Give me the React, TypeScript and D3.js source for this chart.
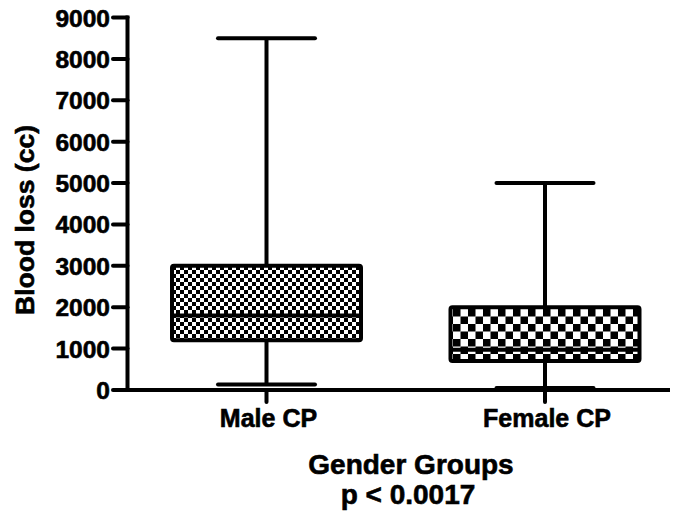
import React from "react";
import * as d3 from "d3";

const categories = ["Male CP", "Female CP"];
const mins = [130, 50];
const q1s = [1200, 700];
const medians = [1800, 970];
const q3s = [3000, 2000];
const maxs = [8500, 5000];
const patterns = ["checkFine", "checkCoarse"];
const yTicks = [0, 1000, 2000, 3000, 4000, 5000, 6000, 7000, 8000, 9000];
const yTitle = "Blood loss (cc)";
const xTitle = "Gender Groups";
const pText = "p < 0.0017";

export default function App() {
  const W = 682, H = 514;
  const axisX = 127.5, axisY = 390, axisRight = 670;
  const y = d3.scaleLinear().domain([0, 9000]).range([390, 17.5]);
  const x = d3.scalePoint<string>().domain(categories).range([266.5, 545]).padding(0);
  const boxW = 189, capW = 97;
  const font = "'Liberation Sans', Arial, Helvetica, sans-serif";
  const textStroke = { stroke: "#000", strokeWidth: 0.6 };

  return (
    <svg width={W} height={H} style={{ position: "absolute", left: 0, top: 0, background: "#fff" }}>
      <defs>
        <pattern id="checkFine" patternUnits="userSpaceOnUse" width={8} height={8} x={172} y={266}>
          <rect width={8} height={8} fill="#fff" />
          <rect width={4} height={4} fill="#000" />
          <rect x={4} y={4} width={4} height={4} fill="#000" />
        </pattern>
        <pattern id="checkCoarse" patternUnits="userSpaceOnUse" width={15} height={15} x={453} y={309}>
          <rect width={15} height={15} fill="#fff" />
          <rect width={7.5} height={7.5} fill="#000" />
          <rect x={7.5} y={7.5} width={7.5} height={7.5} fill="#000" />
        </pattern>
      </defs>

      {categories.map((c, i) => {
        const cx = x(c)!;
        return (
          <g key={c}>
            <line x1={cx} x2={cx} y1={y(mins[i])} y2={y(maxs[i])} stroke="#000" strokeWidth={4} />
            <line x1={cx - capW / 2} x2={cx + capW / 2} y1={y(maxs[i])} y2={y(maxs[i])} stroke="#000" strokeWidth={4} strokeLinecap="round" />
            <line x1={cx - capW / 2} x2={cx + capW / 2} y1={y(mins[i])} y2={y(mins[i])} stroke="#000" strokeWidth={4} strokeLinecap="round" />
            <rect x={cx - boxW / 2} y={y(q3s[i])} width={boxW} height={y(q1s[i]) - y(q3s[i])} fill={`url(#${patterns[i]})`} stroke="#000" strokeWidth={4} rx={2} />
            <line x1={cx - boxW / 2} x2={cx + boxW / 2} y1={y(medians[i])} y2={y(medians[i])} stroke="#000" strokeWidth={4} />
          </g>
        );
      })}

      {/* Y axis */}
      <line x1={axisX} x2={axisX} y1={y(9000) - 2} y2={axisY + 2} stroke="#000" strokeWidth={4} />
      {yTicks.map((t) => (
        <g key={t}>
          <line x1={113} x2={axisX} y1={y(t)} y2={y(t)} stroke="#000" strokeWidth={4} strokeLinecap="round" />
          <text x={110} y={y(t) + 9} textAnchor="end" fontFamily={font} fontWeight="bold" fontSize={24.5} {...textStroke}>{t}</text>
        </g>
      ))}

      {/* X axis */}
      <line x1={axisX - 2} x2={axisRight} y1={axisY} y2={axisY} stroke="#000" strokeWidth={4} />
      {categories.map((c) => (
        <g key={c}>
          <line x1={x(c)!} x2={x(c)!} y1={axisY} y2={402} stroke="#000" strokeWidth={4} strokeLinecap="round" />
          <text x={x(c)! + 2} y={427} textAnchor="middle" fontFamily={font} fontWeight="bold" fontSize={25} {...textStroke}>{c}</text>
        </g>
      ))}

      <text x={411} y={474} textAnchor="middle" fontFamily={font} fontWeight="bold" fontSize={28} {...textStroke}>{xTitle}</text>
      <text x={408} y={504} textAnchor="middle" fontFamily={font} fontWeight="bold" fontSize={28} {...textStroke}>{pText}</text>

      <text transform={`translate(34,220) rotate(-90)`} textAnchor="middle" fontFamily={font} fontWeight="bold" fontSize={26.5} {...textStroke}>{yTitle}</text>
    </svg>
  );
}
